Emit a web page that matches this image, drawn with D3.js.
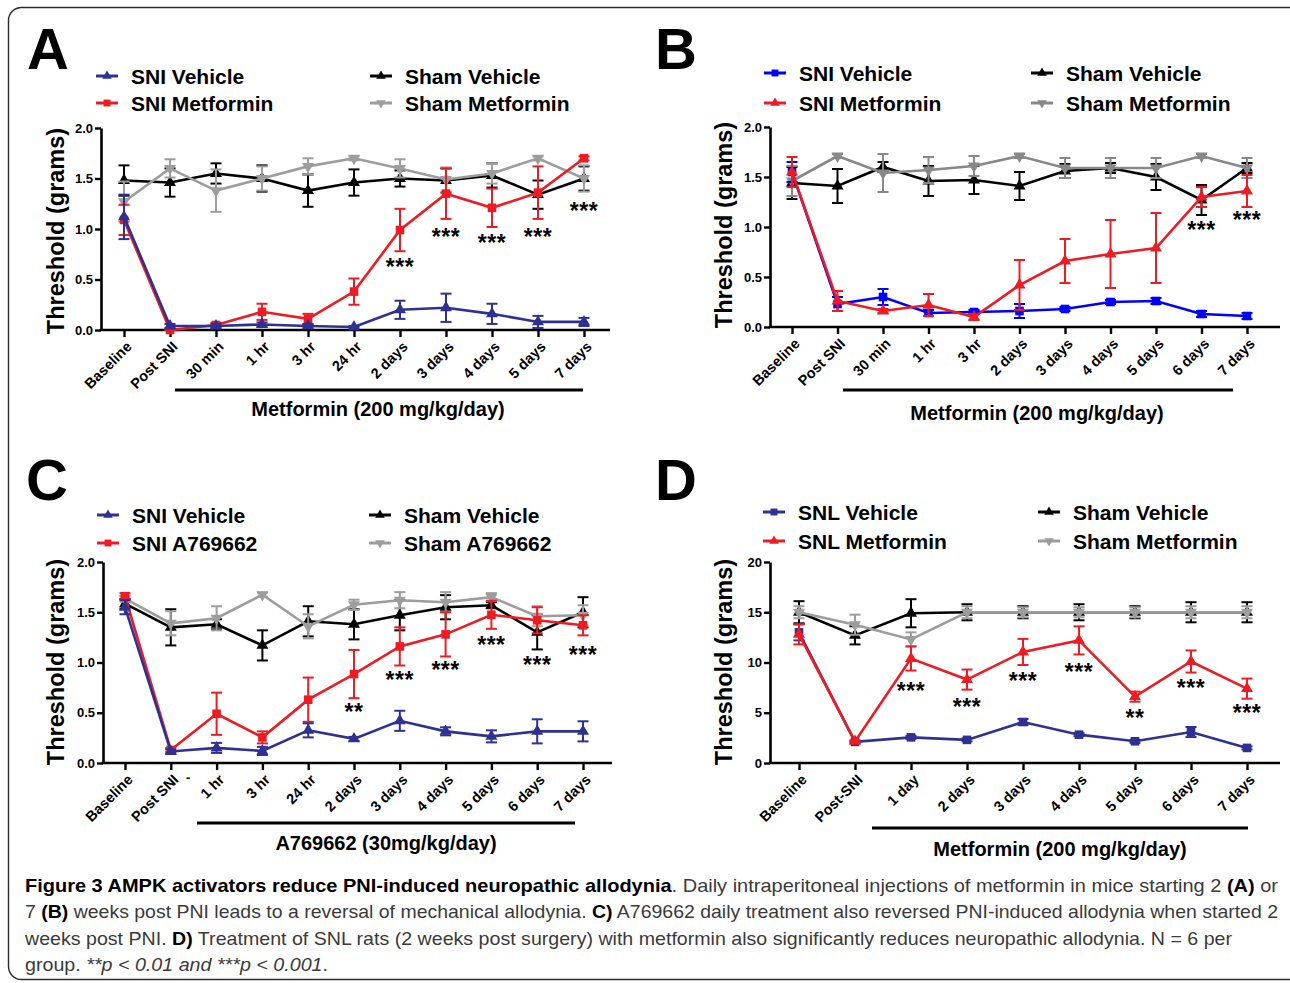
<!DOCTYPE html>
<html><head><meta charset="utf-8">
<script src="https://cdn.jsdelivr.net/npm/d3@7"></script>
<style>
body{margin:0;background:#fff}
svg{display:block}
text{font-family:"Liberation Sans",Arial,sans-serif}
</style></head>
<body><svg id="c" width="1290" height="983"></svg>
<script>
// ---------- Panel A data ----------
const catsA = ["Baseline","Post SNI","30 min","1 hr","3 hr","24 hr","2 days","3 days","4 days","5 days","7 days"];
const aSniVeh    = [1.12,0.04,0.04,0.055,0.04,0.03,0.20,0.22,0.16,0.08,0.08];
const aSniVehErr = [0.22,0.02,0.02,0.02,0.02,0.01,0.09,0.14,0.10,0.06,0.04];
const aSniMet    = [1.09,0.0,0.05,0.18,0.11,0.38,0.99,1.35,1.21,1.36,1.70];
const aSniMetErr = [0.15,0.01,0.02,0.08,0.05,0.13,0.21,0.25,0.19,0.26,0.02];
const aShamVeh    = [1.48,1.46,1.55,1.50,1.38,1.46,1.50,1.48,1.53,1.34,1.50];
const aShamVehErr = [0.15,0.14,0.10,0.13,0.16,0.13,0.08,0.12,0.12,0.14,0.12];
const aShamMet    = [1.27,1.60,1.38,1.50,1.62,1.70,1.60,1.49,1.55,1.70,1.50];
const aShamMetErr = [0.20,0.09,0.21,0.12,0.08,0.02,0.09,0.12,0.10,0.02,0.13];
const aStarCats = ["2 days","3 days","4 days","5 days","7 days"];
const aStarText = ["***","***","***","***","***"];
const aStarY    = [0.67,0.97,0.91,0.97,1.22];

// ---------- Panel B data ----------
const catsB = ["Baseline","Post SNI","30 min","1 hr","3 hr","2 days","3 days","4 days","5 days","6 days","7 days"];
const bSniVeh    = [1.55,0.23,0.30,0.14,0.15,0.16,0.18,0.25,0.26,0.13,0.11];
const bSniVehErr = [0.10,0.07,0.08,0.03,0.02,0.07,0.02,0.02,0.03,0.03,0.03];
const bSniMet    = [1.55,0.26,0.16,0.22,0.10,0.42,0.66,0.73,0.79,1.30,1.36];
const bSniMetErr = [0.15,0.10,0.02,0.11,0.03,0.25,0.22,0.34,0.35,0.10,0.16];
const bShamVeh    = [1.44,1.41,1.60,1.46,1.47,1.41,1.56,1.59,1.50,1.27,1.59];
const bShamVehErr = [0.16,0.17,0.05,0.15,0.14,0.14,0.07,0.05,0.13,0.15,0.05];
const bShamMet    = [1.46,1.71,1.54,1.57,1.61,1.71,1.59,1.59,1.59,1.71,1.59];
const bShamMetErr = [0.15,0.02,0.19,0.13,0.10,0.02,0.10,0.10,0.10,0.02,0.10];
const bStarCats = ["6 days","7 days"];
const bStarText = ["***","***"];
const bStarY    = [1.02,1.12];

// ---------- Panel C data ----------
const catsC = ["Baseline","Post SNI","1 hr","3 hr","24 hr","2 days","3 days","4 days","5 days","6 days","7 days"];
const cSniVeh    = [1.55,0.115,0.15,0.12,0.325,0.24,0.42,0.315,0.265,0.315,0.315];
const cSniVehErr = [0.07,0.02,0.05,0.04,0.07,0.02,0.10,0.04,0.06,0.12,0.10];
const cSniA      = [1.66,0.13,0.49,0.255,0.63,0.885,1.16,1.28,1.475,1.42,1.37];
const cSniAErr   = [0.03,0.02,0.21,0.06,0.22,0.24,0.19,0.22,0.14,0.13,0.10];
const cShamVeh    = [1.585,1.35,1.38,1.17,1.41,1.38,1.47,1.55,1.57,1.30,1.50];
const cShamVehErr = [0.05,0.18,0.05,0.15,0.15,0.15,0.15,0.12,0.03,0.17,0.15];
const cShamA      = [1.635,1.39,1.44,1.675,1.36,1.575,1.62,1.60,1.65,1.46,1.47];
const cShamAErr   = [0.03,0.12,0.12,0.02,0.12,0.05,0.08,0.10,0.04,0.10,0.10];
const cStarCats = ["2 days","3 days","4 days","5 days","6 days","7 days"];
const cStarText = ["**","***","***","***","***","***"];
const cStarY    = [0.55,0.87,0.975,1.22,1.02,1.12];

// ---------- Panel D data ----------
const catsD = ["Baseline","Post-SNI","1 day","2 days","3 days","4 days","5 days","6 days","7 days"];
const dSnlVeh    = [13.0,2.1,2.55,2.3,4.08,2.82,2.16,3.08,1.5];
const dSnlVehErr = [0.8,0.1,0.15,0.15,0.3,0.15,0.15,0.5,0.15];
const dSnlMet    = [12.8,2.15,10.4,8.3,11.05,12.2,6.6,10.1,7.4];
const dSnlMetErr = [1.0,0.1,1.2,1.0,1.3,1.4,0.5,1.1,1.0];
const dShamVeh    = [15.0,12.7,14.9,15.0,15.0,15.0,15.0,15.0,15.0];
const dShamVehErr = [1.1,0.9,1.4,0.8,0.6,0.8,0.6,1.0,1.0];
const dShamMet    = [15.0,13.76,12.3,15.0,15.0,15.0,15.0,15.0,15.0];
const dShamMetErr = [0.6,1.0,0.7,0.6,0.5,0.5,0.5,0.6,0.6];
const dStarCats = ["1 day","2 days","3 days","4 days","5 days","6 days","7 days"];
const dStarText = ["***","***","***","***","**","***","***"];
const dStarY    = [7.66,6.07,8.66,9.55,4.97,7.96,5.47];

const ticks01 = [0,0.5,1.0,1.5,2.0];
const ticksD = [0,5,10,15,20];

const NAVY="#2e3192", RED="#ed1c24", BLUE="#0000ff", GRAY="#9d9d9d", BLACK="#000";

const svg = d3.select("#c");

// frame
svg.append("rect").attr("x",8.5).attr("y",7.5).attr("width",1310).attr("height",972)
  .attr("rx",13).attr("fill","none").attr("stroke","#2b2b2b").attr("stroke-width",1.4);

function sym(type){
  if(type==="sq") return d3.symbol().type(d3.symbolSquare).size(74)();
  return d3.symbol().type(d3.symbolTriangle).size(62)();
}

function panel(cfg){
  const x = d3.scalePoint().domain(cfg.cats).range([cfg.x0,cfg.x1]);
  const y = d3.scaleLinear().domain([0,cfg.ymax]).range([cfg.yb,cfg.yt]);
  const g = svg.append("g");

  // letter
  g.append("text").attr("x",cfg.lx).attr("y",cfg.ly).attr("font-size",58).attr("font-weight","bold").text(cfg.letter);

  // legend
  cfg.legend.forEach((L,i)=>{
    const lx = L.col===0 ? cfg.legX[0] : cfg.legX[1];
    const ly = cfg.legY[L.row];
    g.append("line").attr("x1",lx).attr("x2",lx+22).attr("y1",ly).attr("y2",ly)
      .attr("stroke",L.color).attr("stroke-width",3);
    g.append("path").attr("d",sym(L.shape)).attr("fill",L.color)
      .attr("transform",`translate(${lx+11},${ly}) rotate(${L.down?180:0}) scale(0.8)`);
    g.append("text").attr("x",lx+35).attr("y",ly).attr("dy","0.36em")
      .attr("font-size",21).attr("font-weight","bold").text(L.label);
  });

  // y axis
  const ya = g.append("g").attr("transform",`translate(${cfg.ax},0)`)
    .call(d3.axisLeft(y).tickValues(cfg.yticks).tickFormat(cfg.fmt).tickSize(6).tickSizeOuter(0));
  ya.select(".domain").attr("stroke-width",2.6).attr("stroke","#000");
  ya.selectAll(".tick line").attr("stroke-width",2.4).attr("stroke","#000");
  ya.selectAll(".tick text").attr("font-size",13).attr("font-weight","bold")
    .attr("font-family","Liberation Sans, Arial, sans-serif").attr("x",-8).attr("fill","#000");

  // x axis
  const xa = g.append("g").attr("transform",`translate(0,${cfg.yb})`)
    .call(d3.axisBottom(x).tickSize(7).tickSizeOuter(0));
  xa.select(".domain").remove();
  xa.selectAll(".tick line").attr("stroke-width",2.4).attr("stroke","#000");
  xa.selectAll(".tick text").remove();
  g.append("line").attr("x1",cfg.ax-1.3).attr("x2",cfg.xend).attr("y1",cfg.yb).attr("y2",cfg.yb)
    .attr("stroke","#000").attr("stroke-width",2.6);
  cfg.cats.forEach(c=>{
    g.append("text").attr("transform",`translate(${x(c)+5},${cfg.yb+14}) rotate(-45)`)
      .attr("text-anchor","end").attr("dy","0.35em").attr("font-size",14.5).attr("font-weight","bold").text(c);
  });
  if(cfg.extraDash){
    g.append("text").attr("x",cfg.extraDash[0]).attr("y",cfg.extraDash[1]).attr("font-size",13)
      .attr("font-weight","bold").text("-");
  }

  // y title
  g.append("text").attr("transform",`translate(${cfg.tx},${cfg.ty}) rotate(-90)`)
    .attr("text-anchor","middle").attr("font-size",23.5).attr("font-weight","bold").text("Threshold (grams)");

  // treatment bracket
  g.append("line").attr("x1",cfg.br[0]).attr("x2",cfg.br[1]).attr("y1",cfg.br[2]).attr("y2",cfg.br[2])
    .attr("stroke","#000").attr("stroke-width",3);
  g.append("text").attr("x",cfg.bl[0]).attr("y",cfg.bl[1]).attr("text-anchor","middle")
    .attr("font-size",20).attr("font-weight","bold").text(cfg.treat);

  // series
  cfg.series.forEach(s=>{
    const pts = cfg.cats.map((c,i)=>({c,v:s.vals[i],e:s.err[i]}));
    const sg = g.append("g");
    pts.forEach(p=>{
      const xx=x(p.c), y1=y(p.v+p.e), y2=y(Math.max(0,p.v-p.e));
      sg.append("line").attr("x1",xx).attr("x2",xx).attr("y1",y1).attr("y2",y2).attr("stroke",s.color).attr("stroke-width",2);
      sg.append("line").attr("x1",xx-5.5).attr("x2",xx+5.5).attr("y1",y1).attr("y2",y1).attr("stroke",s.color).attr("stroke-width",2);
      sg.append("line").attr("x1",xx-5.5).attr("x2",xx+5.5).attr("y1",y2).attr("y2",y2).attr("stroke",s.color).attr("stroke-width",2);
    });
    sg.append("path").datum(pts).attr("fill","none").attr("stroke",s.color).attr("stroke-width",2.6)
      .attr("d",d3.line().x(p=>x(p.c)).y(p=>y(p.v)));
    pts.forEach(p=>{
      sg.append("path").attr("d",sym(s.shape)).attr("fill",s.color)
        .attr("transform",`translate(${x(p.c)},${y(p.v)}) rotate(${s.down?180:0})`);
    });
  });

  // significance stars
  cfg.stars.cats.forEach((c,i)=>{
    g.append("text").attr("x",x(c)).attr("y",y(cfg.stars.y[i])).attr("dy","0.55em")
      .attr("text-anchor","middle").attr("font-size",23).attr("font-weight","bold").attr("letter-spacing",0.5)
      .attr("font-family","DejaVu Sans, sans-serif").text(cfg.stars.text[i]);
  });
}

// Panel A
panel({
  letter:"A", lx:27, ly:69,
  cats:catsA, x0:124, x1:584, ax:101, xend:610, yb:330, yt:128, ymax:2, yticks:ticks01, fmt:d3.format(".1f"),
  tx:64, ty:231, br:[175,583,390], bl:[378,416], treat:"Metformin (200 mg/kg/day)",
  legX:[96,370], legY:[76,103],
  legend:[
    {label:"SNI Vehicle",color:NAVY,shape:"tri",col:0,row:0},
    {label:"SNI Metformin",color:RED,shape:"sq",col:0,row:1},
    {label:"Sham Vehicle",color:BLACK,shape:"tri",col:1,row:0},
    {label:"Sham Metformin",color:GRAY,shape:"tri",down:true,col:1,row:1}],
  series:[
    {vals:aShamVeh,err:aShamVehErr,color:BLACK,shape:"tri"},
    {vals:aShamMet,err:aShamMetErr,color:GRAY,shape:"tri",down:true},
    {vals:aSniMet,err:aSniMetErr,color:RED,shape:"sq"},
    {vals:aSniVeh,err:aSniVehErr,color:NAVY,shape:"tri"}],
  stars:{cats:aStarCats,text:aStarText,y:aStarY}
});

// Panel B
panel({
  letter:"B", lx:655, ly:69,
  cats:catsB, x0:792, x1:1247, ax:770, xend:1280, yb:327, yt:127, ymax:2, yticks:ticks01, fmt:d3.format(".1f"),
  tx:732, ty:225, br:[843,1233,390], bl:[1037,420], treat:"Metformin (200 mg/kg/day)",
  legX:[764,1031], legY:[73,103],
  legend:[
    {label:"SNI Vehicle",color:BLUE,shape:"sq",col:0,row:0},
    {label:"SNI Metformin",color:RED,shape:"tri",col:0,row:1},
    {label:"Sham Vehicle",color:BLACK,shape:"tri",col:1,row:0},
    {label:"Sham Metformin",color:"#888",shape:"tri",down:true,col:1,row:1}],
  series:[
    {vals:bShamVeh,err:bShamVehErr,color:BLACK,shape:"tri"},
    {vals:bShamMet,err:bShamMetErr,color:"#888",shape:"tri",down:true},
    {vals:bSniVeh,err:bSniVehErr,color:BLUE,shape:"sq"},
    {vals:bSniMet,err:bSniMetErr,color:RED,shape:"tri"}],
  stars:{cats:bStarCats,text:bStarText,y:bStarY}
});

// Panel C
panel({
  letter:"C", lx:26, ly:500,
  cats:catsC, x0:125, x1:583, ax:103, xend:612, yb:763, yt:562, ymax:2, yticks:ticks01, fmt:d3.format(".1f"),
  tx:64, ty:662, br:[197,575,823], bl:[386,850], treat:"A769662 (30mg/kg/day)",
  extraDash:[186,782],
  legX:[97,369], legY:[515,543],
  legend:[
    {label:"SNI Vehicle",color:NAVY,shape:"tri",col:0,row:0},
    {label:"SNI A769662",color:RED,shape:"sq",col:0,row:1},
    {label:"Sham Vehicle",color:BLACK,shape:"tri",col:1,row:0},
    {label:"Sham A769662",color:GRAY,shape:"tri",down:true,col:1,row:1}],
  series:[
    {vals:cShamVeh,err:cShamVehErr,color:BLACK,shape:"tri"},
    {vals:cShamA,err:cShamAErr,color:GRAY,shape:"tri",down:true},
    {vals:cSniA,err:cSniAErr,color:RED,shape:"sq"},
    {vals:cSniVeh,err:cSniVehErr,color:NAVY,shape:"tri"}],
  stars:{cats:cStarCats,text:cStarText,y:cStarY}
});

// Panel D
panel({
  letter:"D", lx:655, ly:500,
  cats:catsD, x0:799, x1:1247, ax:770, xend:1280, yb:763, yt:562, ymax:20, yticks:ticksD, fmt:d3.format("d"),
  tx:732, ty:662, br:[872,1248,828], bl:[1060,856], treat:"Metformin (200 mg/kg/day)",
  legX:[763,1038], legY:[512,541],
  legend:[
    {label:"SNL Vehicle",color:NAVY,shape:"sq",col:0,row:0},
    {label:"SNL Metformin",color:RED,shape:"tri",col:0,row:1},
    {label:"Sham Vehicle",color:BLACK,shape:"tri",col:1,row:0},
    {label:"Sham Metformin",color:GRAY,shape:"tri",down:true,col:1,row:1}],
  series:[
    {vals:dShamVeh,err:dShamVehErr,color:BLACK,shape:"tri"},
    {vals:dShamMet,err:dShamMetErr,color:GRAY,shape:"tri",down:true},
    {vals:dSnlVeh,err:dSnlVehErr,color:NAVY,shape:"sq"},
    {vals:dSnlMet,err:dSnlMetErr,color:RED,shape:"tri"}],
  stars:{cats:dStarCats,text:dStarText,y:dStarY}
});

// caption
const capLines = [
  {y:892,len:1253,parts:[["b","Figure 3 AMPK activators reduce PNI-induced neuropathic allodynia"],["n",". Daily intraperitoneal injections of metformin in mice starting 2 "],["b","(A)"],["n"," or"]]},
  {y:918,len:1253,parts:[["n","7 "],["b","(B)"],["n"," weeks post PNI leads to a reversal of mechanical allodynia. "],["b","C)"],["n"," A769662 daily treatment also reversed PNI-induced allodynia when started 2"]]},
  {y:945,len:1207,parts:[["n","weeks post PNI. "],["b","D)"],["n"," Treatment of SNL rats (2 weeks post surgery) with metformin also significantly reduces neuropathic allodynia. N = 6 per"]]},
  {y:971,len:303,parts:[["n","group. "],["i","**p < 0.01 and ***p < 0.001"],["n","."]]}
];
capLines.forEach(L=>{
  const t = svg.append("text").attr("x",25).attr("y",L.y).attr("font-size",19)
    .attr("textLength",L.len).attr("lengthAdjust","spacingAndGlyphs").attr("fill","#3a3a3a");
  L.parts.forEach(p=>{
    const ts = t.append("tspan").text(p[1]);
    if(p[0]==="b") ts.attr("font-weight","bold").attr("fill","#000");
    if(p[0]==="i") ts.attr("font-style","italic");
  });
});
</script>
</body></html>
